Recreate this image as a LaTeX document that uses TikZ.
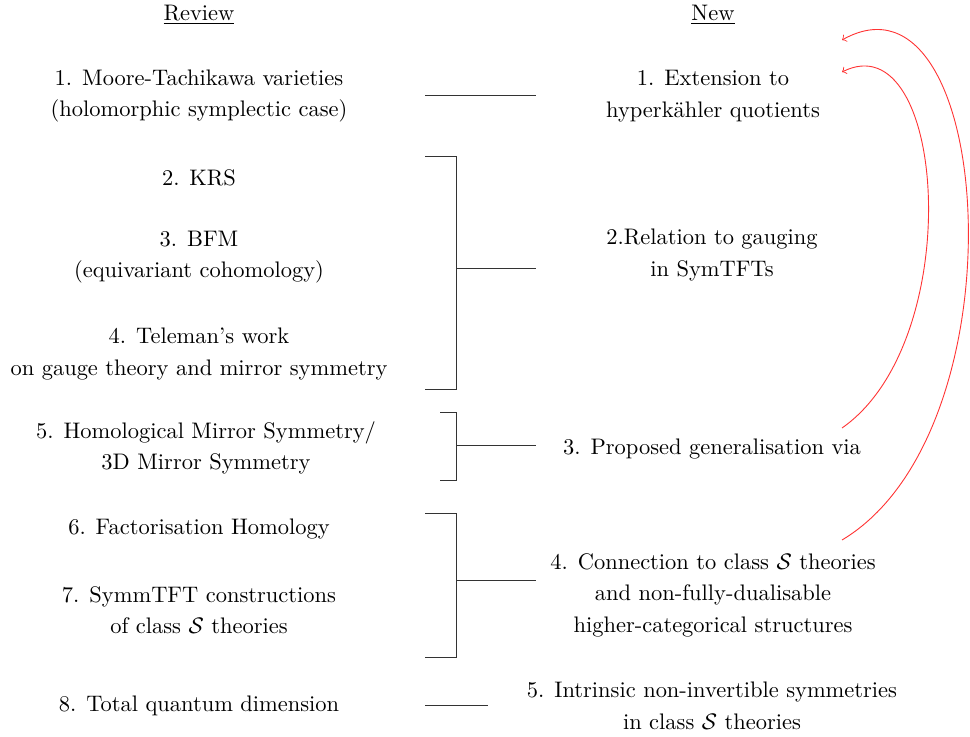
\documentclass[tikz,border=0pt]{standalone}
\usepackage{amsmath}
\usepackage{amssymb}
\begin{document}
\begin{tikzpicture}[x=0.445pt,y=-0.445pt]
\tikzstyle{lien}=[->,red!80,thin]
\tikzset{item/.style={align=center,inner sep=0pt},
trait/.style={draw,black!80,thin}}
\useasboundingbox (0,0) rectangle (970,736);

% titres
\node[item] (review) at (199,15) {\underline{Review}};
\node[item] (new) at (713,15) {\underline{New}};

% colonne de gauche
\node[item] (R1) at (199,96) {1. Moore-Tachikawa varieties\\[2pt] (holomorphic symplectic case)};
\node[item] (R2) at (199,178) {2. KRS};
\node[item] (R3) at (199,257) {3. BFM\\[2pt] (equivariant cohomology)};
\node[item] (R4) at (199,354) {4. Teleman's work\\[2pt] on gauge theory and mirror symmetry};
\node[item] (R5) at (206,448) {5. Homological Mirror Symmetry/\\[2pt] 3D Mirror Symmetry};
\node[item] (R6) at (199,529) {6. Factorisation Homology};
\node[item] (R7) at (199,610) {7. SymmTFT constructions\\[2pt] of class $\mathcal{S}$ theories};
\node[item] (R8) at (199,706) {8. Total quantum dimension};

% colonne de droite
\node[item] (N1) at (713,96) {1. Extension to\\[2pt] hyperk\"ahler quotients};
\node[item] (N2) at (712,255) {2.Relation to gauging\\[2pt] in SymTFTs};
\node[item] (N3) at (712,449) {3. Proposed generalisation via};
\node[item] (N4) at (713,595) {4. Connection to class $\mathcal{S}$ theories\\[2pt] and non-fully-dualisable\\[2pt] higher-categorical structures};
\node[item] (N5) at (712,706) {5. Intrinsic non-invertible symmetries\\[2pt] in class $\mathcal{S}$ theories};

% liens
\coordinate (c1a) at (425,95);
\coordinate (c1b) at (536,95);
\draw[trait] (c1a) -- (c1b);

\coordinate (b1h) at (425,156);
\coordinate (b1m) at (456,268);
\coordinate (b1b) at (425,389);
\coordinate (b1d) at (536,268);
\draw[trait] (b1h) -| (b1m) |- (b1b);
\draw[trait] (b1m) -- (b1d);

\coordinate (b2h) at (440,412);
\coordinate (b2m) at (456,445);
\coordinate (b2b) at (440,480);
\coordinate (b2d) at (536,445);
\draw[trait] (b2h) -| (b2m) |- (b2b);
\draw[trait] (b2m) -- (b2d);

\coordinate (b3h) at (425,513);
\coordinate (b3m) at (456,580);
\coordinate (b3b) at (425,657);
\coordinate (b3d) at (536,580);
\draw[trait] (b3h) -| (b3m) |- (b3b);
\draw[trait] (b3m) -- (b3d);

\coordinate (c8a) at (425,705);
\coordinate (c8b) at (488,705);
\draw[trait] (c8a) -- (c8b);

% fleches rouges
\coordinate (f1a) at (842,428);
\coordinate (f1b) at (842,72);
\coordinate (f2a) at (842,540);
\coordinate (f2b) at (842,40);
\draw[lien] (f1a) .. controls (968,340) and (946,20) .. (f1b);
\draw[lien] (f2a) .. controls (1026,430) and (994,-45) .. (f2b);

\end{tikzpicture}
\end{document}
